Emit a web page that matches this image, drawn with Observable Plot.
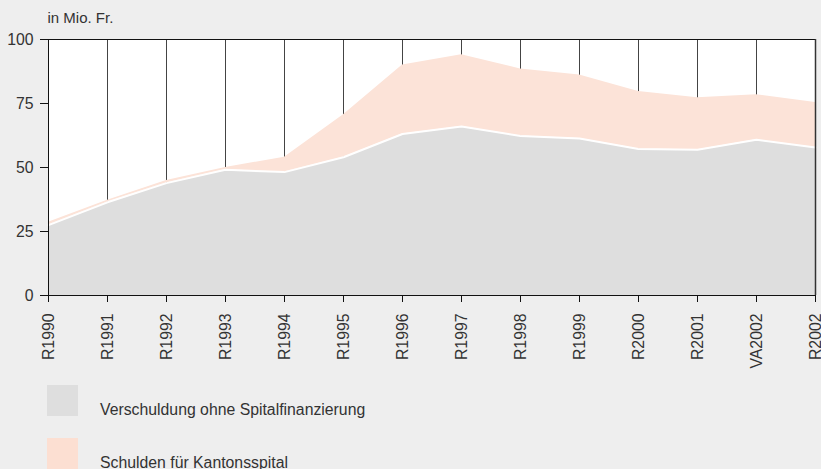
<!DOCTYPE html>
<html>
<head>
<meta charset="utf-8">
<script src="https://cdn.jsdelivr.net/npm/d3@7"></script>
<script src="https://cdn.jsdelivr.net/npm/@observablehq/plot@0.6"></script>
<style>
  html, body { margin: 0; padding: 0; background: #eeeeee; }
  #wrap { position: relative; width: 821px; height: 469px; overflow: hidden; font-family: "Liberation Sans", Arial, sans-serif; color: #333; }
  .sw { position: absolute; left: 47px; width: 31px; height: 31px; }
  .lt { position: absolute; left: 100px; font-size: 15.8px; line-height: 16px; white-space: nowrap; }
</style>
</head>
<body>
<div id="wrap">
  <div id="chart"></div>
  <div class="sw" style="top:385px;background:#dedede"></div>
  <div class="lt" style="top:402px">Verschuldung ohne Spitalfinanzierung</div>
  <div class="sw" style="top:438px;background:#fcdfd2"></div>
  <div class="lt" style="top:455px">Schulden für Kantonsspital</div>
</div>
<script>
const categories = ["R1990","R1991","R1992","R1993","R1994","R1995","R1996","R1997","R1998","R1999","R2000","R2001","VA2002","R2002"];
const ohneSpital = [27.5, 36.4, 43.9, 49.1, 48.2, 54.0, 63.1, 66.0, 62.3, 61.3, 57.2, 56.9, 60.8, 57.8];
const total      = [28.6, 37.2, 44.9, 50.0, 54.0, 70.6, 90.0, 94.0, 88.5, 86.1, 79.7, 77.2, 78.4, 75.4];
const yTicks = [0, 25, 50, 75, 100];

const data = categories.map((c, i) => ({cat: c, base: ohneSpital[i], tot: total[i]}));

const chart = Plot.plot({
  width: 821,
  height: 370,
  marginLeft: 48,
  marginRight: 6,
  marginTop: 39,
  marginBottom: 75,
  style: {background: "transparent", fontSize: "15.8px", fontFamily: "Liberation Sans, Arial, sans-serif", color: "#333", overflow: "visible"},
  x: {type: "point", domain: categories, padding: 0},
  y: {domain: [0, 100]},
  marks: [
    Plot.frame({fill: "white", stroke: null}),
    Plot.ruleX(categories, {x: d => d, y1: 0, y2: 100, stroke: "#444", strokeWidth: 1}),
    Plot.areaY(data, {x: "cat", y1: 0, y2: "base", fill: "#dedede", curve: "linear"}),
    Plot.areaY(data, {x: "cat", y1: "base", y2: "tot", fill: "#fce3d8", curve: "linear"}),
    Plot.lineY(data, {x: "cat", y: "base", stroke: "white", strokeWidth: 2}),
    Plot.ruleY([100], {stroke: "#111"}),
    Plot.ruleY([0], {stroke: "#111"}),
    Plot.ruleX([categories[0]], {y1: 0, y2: 100, stroke: "#111"}),
    Plot.ruleX([categories[categories.length - 1]], {y1: 0, y2: 100, stroke: "#333", strokeWidth: 1.5}),
    Plot.axisY({ticks: yTicks, tickSize: 8, tickPadding: 7, label: null, stroke: "#111"}),
    Plot.axisX({tickRotate: -90, tickSize: 7, tickPadding: 11, label: null, stroke: "#111"}),
    Plot.text(["in Mio. Fr."], {frameAnchor: "top-left", text: d => d, textAnchor: "start", lineAnchor: "middle", dx: -1, dy: -21, fill: "#333", fontSize: 15})
  ]
});
document.getElementById("chart").appendChild(chart);
</script>
</body>
</html>
